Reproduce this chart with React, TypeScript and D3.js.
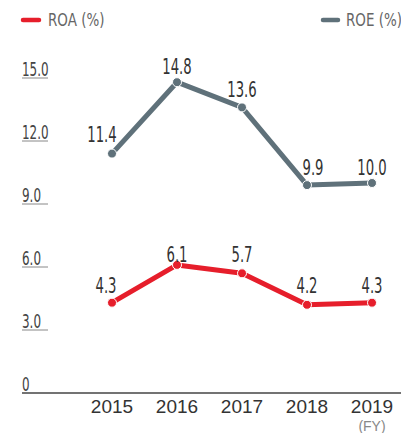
import * as d3 from "d3";

const years = ["2015", "2016", "2017", "2018", "2019"];
const roa = [4.3, 6.1, 5.7, 4.2, 4.3];
const roe = [11.4, 14.8, 13.6, 9.9, 10.0];
const yTicks = [0, 3, 6, 9, 12, 15];

// label nudges (dx, dy) relative to each point
const roaNudge = [[-6, -10], [0, -3], [0, -11], [0, -12], [0, -10]];
const roeNudge = [[-10, -12], [0, -8], [0, -10], [6, -10], [0, -8]];

const W = 401;
const H = 433;
const RED = "#e61e2b";
const GREY = "#5f717a";
const COND = "'DejaVu Sans Condensed', 'DejaVu Sans', sans-serif";

// squeezed text, to get close to the narrow typeface of the original
const T = ({ x, y, sx, size, fill, anchor = "start", children }: any) => (
  <text
    transform={`translate(${x},${y}) scale(${sx},1)`}
    textAnchor={anchor}
    fontFamily={COND}
    fontSize={size}
    fill={fill}
  >
    {children}
  </text>
);

const App = () => {
  const x = d3.scalePoint<string>().domain(years).range([112, 372]);
  const y = d3.scaleLinear().domain([0, 15]).range([393, 78]);

  const line = d3
    .line<number>()
    .x((_, i) => x(years[i]) as number)
    .y((d) => y(d));

  const series = [
    { key: "roe", values: roe, color: GREY, nudge: roeNudge },
    { key: "roa", values: roa, color: RED, nudge: roaNudge },
  ];

  return (
    <svg
      width={W}
      height={H}
      style={{ position: "absolute", left: 0, top: 0, background: "#fff" }}
    >
      {/* legend */}
      <line x1={23} x2={39} y1={20} y2={20} stroke={RED} strokeWidth={4.5} strokeLinecap="round" />
      <T x={48} y={26} sx={0.88} size={17} fill="#666">ROA (%)</T>
      <line x1={323} x2={338} y1={20} y2={20} stroke={GREY} strokeWidth={4.5} strokeLinecap="round" />
      <T x={346} y={26} sx={0.88} size={17} fill="#666">ROE (%)</T>

      {/* y ticks */}
      {yTicks.map((t) => (
        <g key={t}>
          {t > 0 && <line x1={22} x2={48} y1={y(t)} y2={y(t)} stroke="#888" strokeWidth={1} />}
          <T x={22} y={y(t) - 2} sx={0.7} size={19} fill="#444">
            {t === 0 ? "0" : d3.format(".1f")(t)}
          </T>
        </g>
      ))}

      {/* baseline */}
      <line x1={22} x2={W} y1={y(0)} y2={y(0)} stroke="#444" strokeWidth={1.5} />

      {/* x labels */}
      {years.map((yr) => (
        <text
          key={yr}
          x={x(yr)}
          y={413}
          textAnchor="middle"
          fontFamily="'Liberation Sans', sans-serif"
          fontSize={19}
          fill="#333"
        >
          {yr}
        </text>
      ))}
      <text x={x("2019")} y={431} textAnchor="middle" fontFamily="'Liberation Sans', sans-serif" fontSize={14} fill="#888">
        (FY)
      </text>

      {series.map((s) => (
        <g key={s.key}>
          <path d={line(s.values) ?? ""} fill="none" stroke={s.color} strokeWidth={5} strokeLinejoin="round" />
          {s.values.map((v, i) => (
            <circle key={i} cx={x(years[i])} cy={y(v)} r={4.5} fill={s.color} stroke="#fff" strokeWidth={1} />
          ))}
          {s.values.map((v, i) => (
            <T
              key={"t" + i}
              x={(x(years[i]) as number) + s.nudge[i][0]}
              y={y(v) + s.nudge[i][1]}
              anchor="middle"
              sx={0.7}
              size={21}
              fill="#333"
            >
              {d3.format(".1f")(v)}
            </T>
          ))}
        </g>
      ))}
    </svg>
  );
};

export default App;
